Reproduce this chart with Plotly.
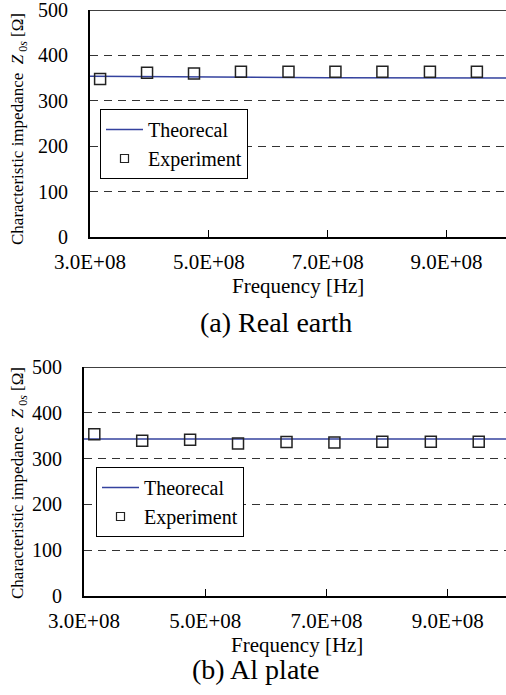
import plotly.graph_objects as go

# ---------------- data ----------------
freq_exp = [3.17e8, 3.96e8, 4.75e8, 5.54e8, 6.34e8, 7.13e8, 7.92e8, 8.72e8, 9.51e8]
exp_real_earth = [348, 362, 360, 364, 364, 364, 364, 364, 364]
exp_al_plate = [353, 339, 341, 333, 336, 335, 337, 337, 337]

freq_theory = [3.0e8, 5.0e8, 7.0e8, 1.0e9]
theory_real_earth = [354, 352, 351, 350]
theory_al_plate = [343, 343, 343, 343]

x_tick_vals = [3e8, 5e8, 7e8, 9e8]
x_tick_text = ["3.0E+08", "5.0E+08", "7.0E+08", "9.0E+08"]
y_tick_vals = [0, 100, 200, 300, 400, 500]

FONT = "Liberation Serif"
W, H = 506, 695
LINE_COLOR = "#34429e"

fig = go.Figure()

# top panel
fig.add_trace(go.Scatter(x=freq_theory, y=theory_real_earth, mode="lines",
                         line=dict(color=LINE_COLOR, width=1.5), name="Theorecal",
                         xaxis="x", yaxis="y", legend="legend"))
fig.add_trace(go.Scatter(x=freq_exp, y=exp_real_earth, mode="markers",
                         marker=dict(symbol="square-open", size=11, color="#222",
                                     line=dict(width=1.5)),
                         name="Experiment", showlegend=False, xaxis="x", yaxis="y"))
fig.add_trace(go.Scatter(x=[None], y=[None], mode="markers",
                         marker=dict(symbol="square-open", size=8, color="#222",
                                     line=dict(width=1.2)),
                         name="Experiment", xaxis="x", yaxis="y", legend="legend"))

# bottom panel
fig.add_trace(go.Scatter(x=freq_theory, y=theory_al_plate, mode="lines",
                         line=dict(color=LINE_COLOR, width=1.5), name="Theorecal",
                         xaxis="x2", yaxis="y2", legend="legend2"))
fig.add_trace(go.Scatter(x=freq_exp, y=exp_al_plate, mode="markers",
                         marker=dict(symbol="square-open", size=11, color="#222",
                                     line=dict(width=1.5)),
                         name="Experiment", showlegend=False, xaxis="x2", yaxis="y2"))
fig.add_trace(go.Scatter(x=[None], y=[None], mode="markers",
                         marker=dict(symbol="square-open", size=8, color="#222",
                                     line=dict(width=1.2)),
                         name="Experiment", xaxis="x2", yaxis="y2", legend="legend2"))


def py(pix):
    return 1 - pix / H


def px(pix):
    return pix / W


xaxis_common = dict(
    tickvals=x_tick_vals, ticktext=x_tick_text,
    showline=True, linecolor="black", linewidth=2,
    ticks="inside", ticklen=7, tickcolor="black", tickwidth=1,
    showgrid=False, zeroline=False, automargin=False,
    ticklabeloverflow="allow",
    tickfont=dict(family=FONT, size=21, color="black"),
    ticklabelstandoff=5,
)
yaxis_common = dict(
    range=[0, 500], tickvals=y_tick_vals,
    showline=True, linecolor="black", linewidth=2,
    ticks="", showgrid=True, gridcolor="#333", gridwidth=1, griddash="8px,6px",
    zeroline=False, automargin=False,
    ticklabeloverflow="allow",
    tickfont=dict(family=FONT, size=20, color="black"),
    ticklabelstandoff=16,
)

legend_common = dict(
    font=dict(family=FONT, size=20, color="black"),
    bgcolor="white", bordercolor="black", borderwidth=1,
    xanchor="left", yanchor="top", tracegroupgap=0,
    itemwidth=37,
)

fig.update_layout(
    width=W, height=H,
    margin=dict(l=0, r=0, t=0, b=0),
    paper_bgcolor="white", plot_bgcolor="white",
    font=dict(family=FONT, color="black"),
    xaxis=dict(domain=[px(90), 1], range=[3e8, 1.0e9], anchor="y", **xaxis_common),
    yaxis=dict(domain=[py(237), py(10)], anchor="x", **yaxis_common),
    xaxis2=dict(domain=[px(84), 1], range=[3e8, 9.96e8], anchor="y2", **xaxis_common),
    yaxis2=dict(domain=[py(596), py(367)], anchor="x2", **yaxis_common),
    legend=dict(x=px(100), y=py(109), **legend_common),
    legend2=dict(x=px(96), y=py(467), **legend_common),
    shapes=[
        dict(type="line", xref="x domain", yref="y", x0=0, x1=1, y0=500, y1=500,
             line=dict(color="black", width=1.5)),
        dict(type="line", xref="x2 domain", yref="y2", x0=0, x1=1, y0=500, y1=500,
             line=dict(color="black", width=1.5)),
    ],
    annotations=[
        dict(text="Frequency [Hz]", x=px(298), y=py(286), xref="paper", yref="paper",
             showarrow=False, xanchor="center", yanchor="middle",
             font=dict(family=FONT, size=21, color="black")),
        dict(text="(a) Real earth", x=px(276), y=py(322), xref="paper", yref="paper",
             showarrow=False, xanchor="center", yanchor="middle",
             font=dict(family=FONT, size=28, color="black")),
        dict(text="Characteristic impedance  <i>Z</i><sub> 0<i>s</i></sub> [Ω]",
             x=px(19), y=py(129), xref="paper", yref="paper", textangle=-90,
             showarrow=False, xanchor="center", yanchor="middle",
             font=dict(family=FONT, size=17, color="black")),
        dict(text="Frequency [Hz]", x=px(297), y=py(645), xref="paper", yref="paper",
             showarrow=False, xanchor="center", yanchor="middle",
             font=dict(family=FONT, size=21, color="black")),
        dict(text="(b) Al plate", x=px(256), y=py(669), xref="paper", yref="paper",
             showarrow=False, xanchor="center", yanchor="middle",
             font=dict(family=FONT, size=28, color="black")),
        dict(text="Characteristic impedance  <i>Z</i><sub> 0<i>s</i></sub> [Ω]",
             x=px(19), y=py(483), xref="paper", yref="paper", textangle=-90,
             showarrow=False, xanchor="center", yanchor="middle",
             font=dict(family=FONT, size=17, color="black")),
    ],
)

fig.write_html("out.html")
